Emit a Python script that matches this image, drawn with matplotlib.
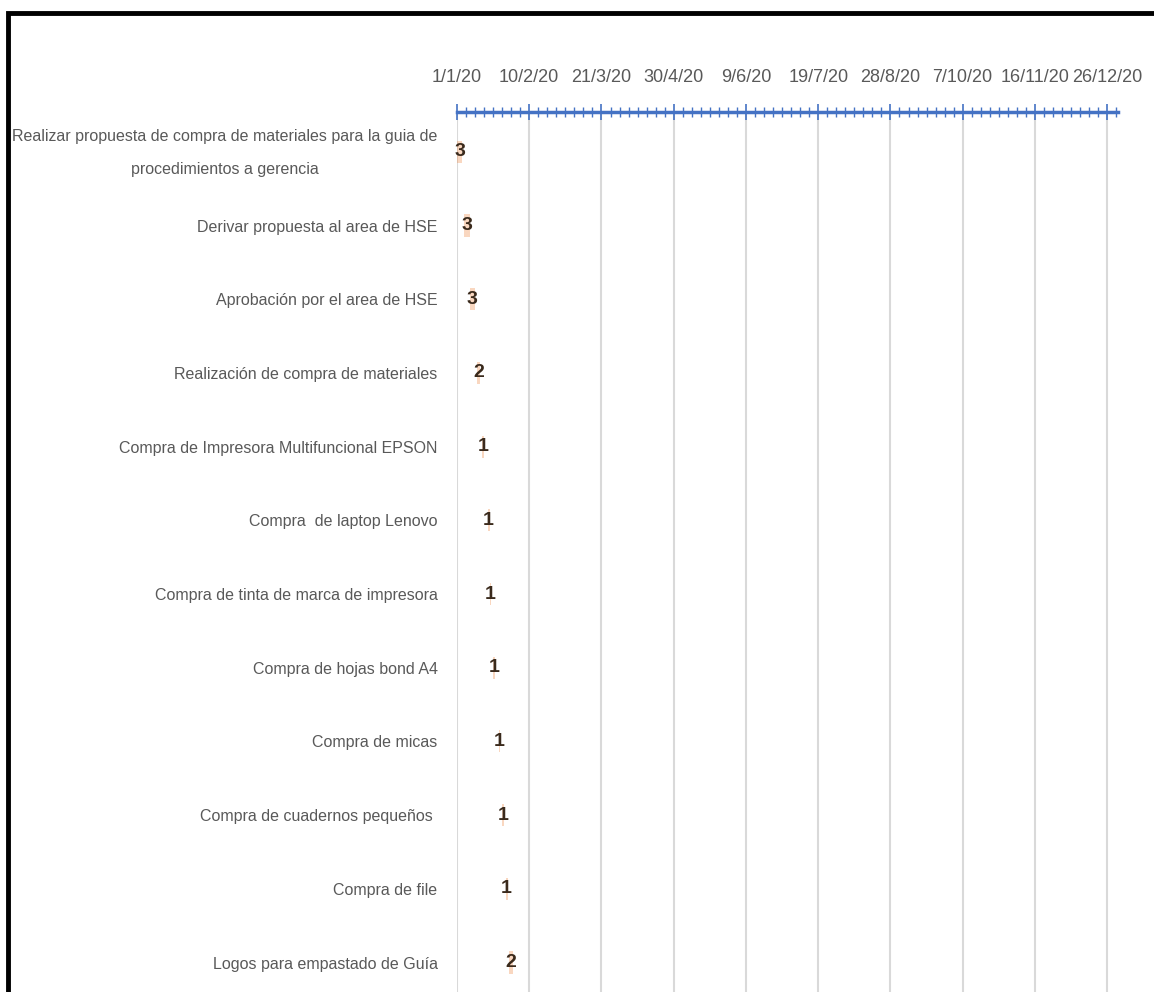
import matplotlib.pyplot as plt
import matplotlib.dates as mdates
import matplotlib.transforms as mtransforms
from matplotlib.patches import Rectangle
from matplotlib.ticker import FixedLocator
import numpy as np
import pandas as pd

plt.rcParams['font.family'] = ['Liberation Sans', 'DejaVu Sans']

tasks = [
    'Realizar propuesta de compra de materiales para la guia de\nprocedimientos a gerencia',
    'Derivar propuesta al area de HSE',
    'Aprobación por el area de HSE',
    'Realización de compra de materiales',
    'Compra de Impresora Multifuncional EPSON',
    'Compra  de laptop Lenovo',
    'Compra de tinta de marca de impresora',
    'Compra de hojas bond A4',
    'Compra de micas',
    'Compra de cuadernos pequeños ',
    'Compra de file',
    'Logos para empastado de Guía',
]
start_dates = ['2020-01-01', '2020-01-05', '2020-01-08', '2020-01-12',
               '2020-01-15', '2020-01-18', '2020-01-19', '2020-01-21',
               '2020-01-24', '2020-01-26', '2020-01-28', '2020-01-30']
durations = [3, 3, 3, 2, 1, 1, 1, 1, 1, 1, 1, 2]
tick_labels = ['1/1/20', '10/2/20', '21/3/20', '30/4/20', '9/6/20',
               '19/7/20', '28/8/20', '7/10/20', '16/11/20', '26/12/20']

W, H = 1154, 992
fig = plt.figure(figsize=(W / 100, H / 100), dpi=100)
ax = fig.add_axes([457 / W, 0, 661 / W, 1 - 112 / H])

starts = mdates.date2num(pd.to_datetime(start_dates))
rows = np.arange(len(tasks))

# gantt bars (start offset + duration) with the duration written on top
ax.barh(rows, durations, left=starts, height=0.3, color='#ED7D31', alpha=0.3, zorder=2)
for y, s, d in zip(rows, starts, durations):
    ax.text(s + d / 2, y, str(d), ha='center', va='center', fontsize=14,
            fontweight='bold', color='#3a2a1c', zorder=3)

tick_dates = mdates.date2num(pd.date_range('2020-01-01', periods=len(tick_labels), freq='40D'))
x0 = mdates.date2num(pd.Timestamp('2020-01-01'))
x1 = mdates.date2num(pd.Timestamp('2021-01-01'))
ax.set_xlim(x0, x1)
ax.set_ylim(11.4, -0.54)

ax.xaxis.tick_top()
ax.set_xticks(tick_dates)
ax.set_xticklabels(tick_labels, fontsize=13, color='#595959')
ax.xaxis.set_minor_locator(FixedLocator(np.arange(x0, x1 + 1, 5)))
ax.tick_params(axis='x', which='major', direction='inout', length=12, width=1.2,
               color='#4472C4', pad=13)
ax.tick_params(axis='x', which='minor', direction='inout', length=7, width=1.0,
               color='#4472C4')
ax.grid(axis='x', which='major', color='#d9d9d9', lw=1.5, zorder=0)

ax.set_yticks(rows)
ax.set_yticklabels(tasks, fontsize=11.5, color='#595959')
ax.tick_params(axis='y', length=0, pad=14)
for lbl in ax.get_yticklabels():
    lbl.set_multialignment('center')
    lbl.set_linespacing(2.5)
# the wrapped first label sits a little low; nudge it up
first = ax.get_yticklabels()[0]
first.set_transform(first.get_transform() +
                    mtransforms.ScaledTranslation(0, 0.09, fig.dpi_scale_trans))

for side in ['left', 'right', 'bottom']:
    ax.spines[side].set_visible(False)
ax.spines['top'].set_color('#4472C4')
ax.spines['top'].set_linewidth(2.5)

# outer black frame
fig.add_artist(Rectangle((8 / W, -0.1), 1.2, 1.1 - 13 / H, transform=fig.transFigure,
                         fill=False, ec='black', lw=3.5))

fig.savefig('out.png', dpi=100)
